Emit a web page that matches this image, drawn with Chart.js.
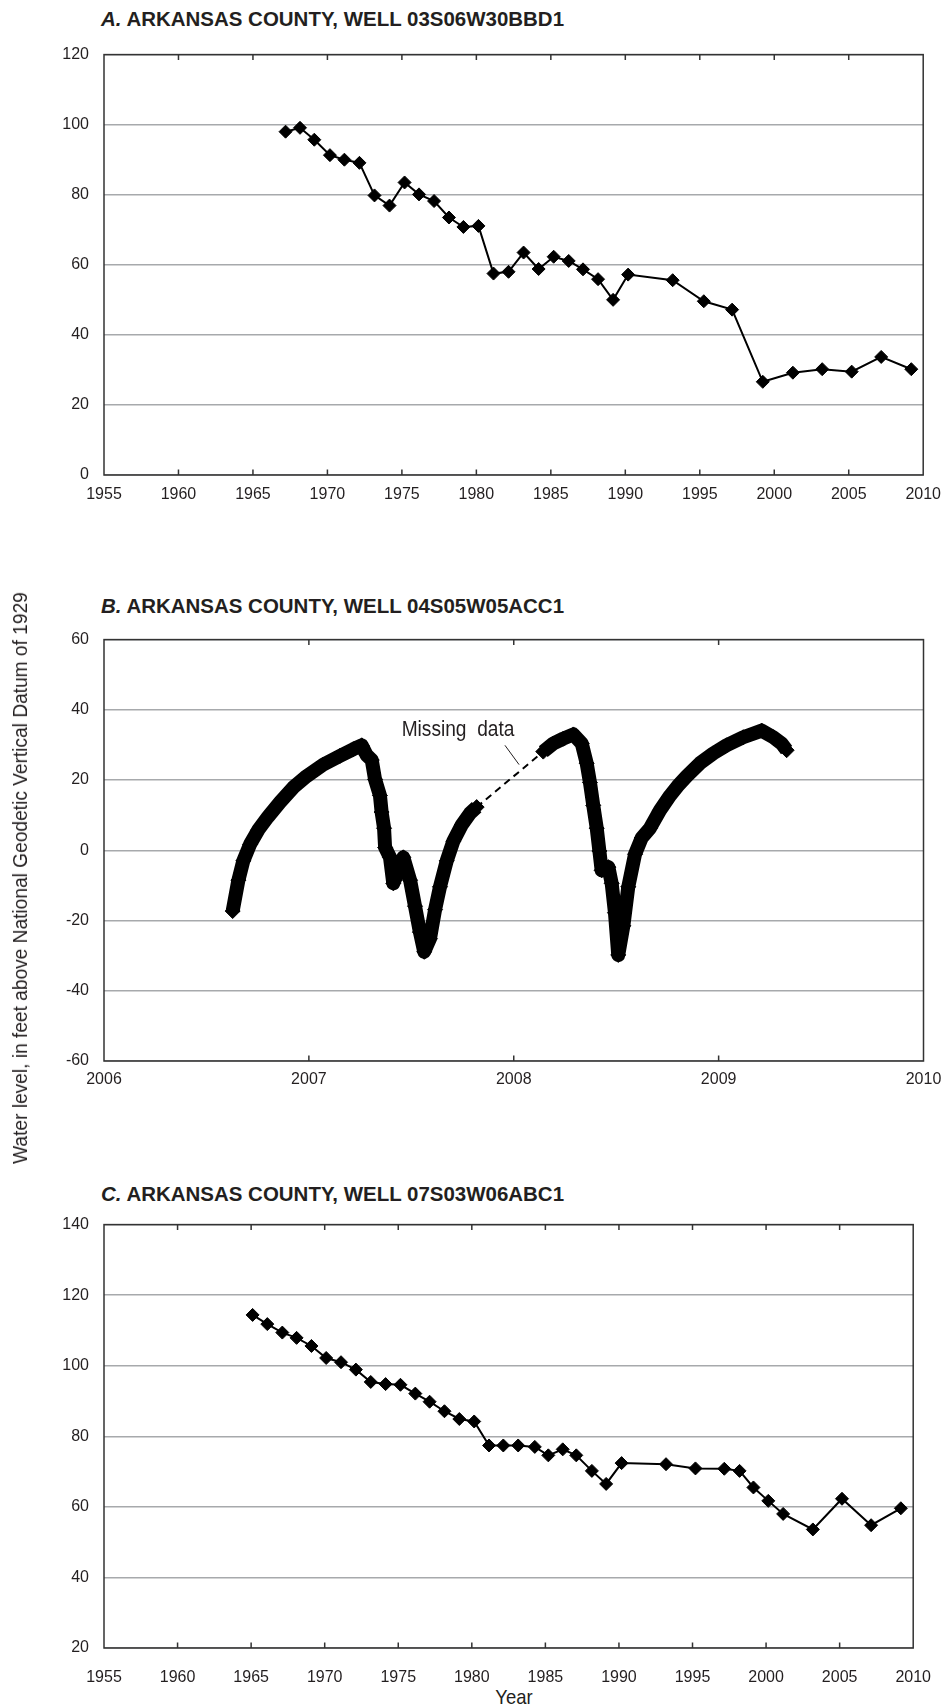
<!DOCTYPE html>
<html>
<head>
<meta charset="utf-8">
<script src="https://cdn.jsdelivr.net/npm/chart.js@4.4.1/dist/chart.umd.min.js"></script>
<style>
    body { margin: 0; background: #fff; width: 943px; height: 1707px; position: relative; overflow: hidden; }
    canvas { position: absolute; left: 0; }
    .titulo { position: absolute; left: 101px; font: bold 21px "Liberation Sans", Arial, sans-serif; line-height: 21px; color: #231f20; white-space: nowrap; transform: scaleX(0.975); transform-origin: 0 0; }
    .eixo { position: absolute; font: 20px "Liberation Sans", Arial, sans-serif; line-height: 22px; color: #231f20; white-space: nowrap; }
</style>
</head>
<body>
<div class="titulo" style="top:8px"><i>A.</i> ARKANSAS COUNTY, WELL 03S06W30BBD1</div>
<div class="titulo" style="top:595px"><i>B.</i> ARKANSAS COUNTY, WELL 04S05W05ACC1</div>
<div class="titulo" style="top:1183px"><i>C.</i> ARKANSAS COUNTY, WELL 07S03W06ABC1</div>

<canvas id="chartA" width="943" height="480" style="top:30px"></canvas>
<canvas id="chartB" width="943" height="481" style="top:615px"></canvas>
<canvas id="chartC" width="943" height="483" style="top:1200px"></canvas>

<div class="eixo" style="left:20px; top:878px; transform: translate(-50%, -50%) rotate(-90deg) scaleX(0.957);">Water level, in feet above National Geodetic Vertical Datum of 1929</div>
<div class="eixo" style="left:514px; top:1697px; font-size:21px; transform: translate(-50%, -50%) scaleX(0.88);">Year</div>

<script>
// Poço A - 03S06W30BBD1
const anosA = [1967.19, 1968.16, 1969.12, 1970.17, 1971.14, 1972.15, 1973.16, 1974.17, 1975.18, 1976.15,
    1977.16, 1978.16, 1979.13, 1980.14, 1981.15, 1982.16, 1983.17, 1984.18, 1985.19, 1986.2,
    1987.16, 1988.17, 1989.18, 1990.19, 1993.18, 1995.27, 1997.17, 1999.23, 2001.25, 2003.22,
    2005.2, 2007.18, 2009.2];
const nivelA = [98.0, 99.1, 95.7, 91.3, 90.0, 89.1, 79.8, 76.9, 83.5, 80.1,
    78.2, 73.5, 70.8, 71.1, 57.5, 58.0, 63.5, 58.8, 62.3, 61.1,
    58.7, 55.9, 50.0, 57.2, 55.6, 49.6, 47.2, 26.6, 29.2, 30.2,
    29.5, 33.7, 30.2];

// Poço B - 04S05W05ACC1 (dois trechos, com falta de dados entre eles)
const anosB1 = [2006.628, 2006.656, 2006.68, 2006.713, 2006.753, 2006.80, 2006.859, 2006.924, 2006.989, 2007.07,
    2007.152, 2007.217, 2007.258, 2007.282, 2007.307, 2007.323, 2007.347, 2007.355, 2007.367, 2007.372,
    2007.396, 2007.412, 2007.445, 2007.461, 2007.494, 2007.518, 2007.542, 2007.563, 2007.591, 2007.616,
    2007.64, 2007.673, 2007.705, 2007.746, 2007.786, 2007.819];
const nivelB1 = [-17.3, -8.5, -3.0, 1.7, 5.8, 9.5, 13.7, 17.9, 21.1, 24.4,
    26.9, 28.8, 29.9, 27.1, 25.7, 20.2, 15.6, 10.9, 6.3, 0.8,
    -2.0, -9.4, -4.8, -2.0, -8.5, -15.9, -23.3, -28.9, -25.2, -16.9,
    -10.4, -3.0, 2.6, 7.2, 10.5, 12.3];
const anosB2 = [2008.144, 2008.193, 2008.242, 2008.291, 2008.332, 2008.356, 2008.372, 2008.388, 2008.405, 2008.418,
    2008.429, 2008.462, 2008.478, 2008.494, 2008.51, 2008.535, 2008.559, 2008.592, 2008.624, 2008.665,
    2008.714, 2008.763, 2008.80, 2008.844, 2008.909, 2008.974, 2009.039, 2009.12, 2009.21, 2009.267,
    2009.308, 2009.332];
const nivelB2 = [28.1, 30.4, 31.8, 33.0, 30.4, 24.8, 19.3, 12.8, 6.3, -0.2,
    -5.7, -4.8, -9.4, -17.8, -29.8, -21.5, -10.4, -1.1, 3.5, 6.3,
    11.4, 15.6, 18.3, 21.1, 24.8, 27.6, 29.9, 32.2, 34.1, 32.2,
    30.4, 28.5];

// Poço C - 07S03W06ABC1
const anosC = [1965.1, 1966.1, 1967.12, 1968.09, 1969.1, 1970.1, 1971.11, 1972.12, 1973.13, 1974.14,
    1975.15, 1976.16, 1977.13, 1978.14, 1979.15, 1980.16, 1981.17, 1982.14, 1983.15, 1984.28,
    1985.2, 1986.18, 1987.1, 1988.16, 1989.13, 1990.18, 1993.2, 1995.2, 1997.16, 1998.2,
    1999.14, 2000.15, 2001.16, 2003.18, 2005.16, 2007.14, 2009.16];
const nivelC = [114.4, 111.8, 109.4, 107.9, 105.6, 102.2, 101.0, 98.9, 95.4, 94.8,
    94.6, 92.1, 89.8, 87.1, 84.9, 84.2, 77.4, 77.4, 77.4, 77.0,
    74.6, 76.3, 74.6, 70.2, 66.5, 72.4, 72.1, 70.9, 70.8, 70.2,
    65.5, 61.7, 58.0, 53.6, 62.3, 54.8, 59.6];

// anotação "Missing data" (em unidades dos eixos)
const notaTexto = 'Missing  data';
const notaPos = { x: 2007.728, y: 34.2 };
const notaLinha = [{ x: 2007.957, y: 29.9 }, { x: 2008.026, y: 24.4 }];

const juntar = (xs, ys) => xs.map((x, i) => ({ x, y: ys[i] }));

const fonteTicks = { family: "'Liberation Sans', Arial, sans-serif", size: 16 };
const corTexto = '#231f20';

// moldura do gráfico + tiquinhos do eixo x pra dentro (em cima e embaixo)
const moldura = {
    id: 'moldura',
    afterDraw(chart) {
        const { ctx, chartArea: a } = chart;
        const x = chart.scales.x;
        ctx.save();
        ctx.strokeStyle = '#333';
        ctx.lineWidth = 1.5;
        ctx.strokeRect(a.left, a.top, a.right - a.left, a.bottom - a.top);
        ctx.beginPath();
        x.ticks.forEach((t) => {
            const px = x.getPixelForValue(t.value);
            if (px <= a.left + 1 || px >= a.right - 1) return;
            ctx.moveTo(px, a.bottom);
            ctx.lineTo(px, a.bottom - 5.5);
            ctx.moveTo(px, a.top);
            ctx.lineTo(px, a.top + 5.5);
        });
        ctx.stroke();
        ctx.restore();
    }
};

const anotacao = {
    id: 'anotacao',
    afterDatasetsDraw(chart) {
        const { ctx, scales: { x, y } } = chart;
        ctx.save();
        ctx.translate(x.getPixelForValue(notaPos.x), y.getPixelForValue(notaPos.y));
        ctx.scale(0.87, 1); // letra mais estreita
        ctx.fillStyle = corTexto;
        ctx.font = "22px 'Liberation Sans', Arial, sans-serif";
        ctx.textAlign = 'center';
        ctx.textBaseline = 'middle';
        ctx.fillText(notaTexto, 0, 0);
        ctx.restore();

        ctx.save();
        ctx.strokeStyle = corTexto;
        ctx.lineWidth = 1;
        ctx.beginPath();
        ctx.moveTo(x.getPixelForValue(notaLinha[0].x), y.getPixelForValue(notaLinha[0].y));
        ctx.lineTo(x.getPixelForValue(notaLinha[1].x), y.getPixelForValue(notaLinha[1].y));
        ctx.stroke();
        ctx.restore();
    }
};

const escalas = (xMin, xMax, xPasso, yMin, yMax, padX) => ({
    x: {
        type: 'linear', min: xMin, max: xMax,
        grid: { display: false }, border: { display: false },
        ticks: { stepSize: xPasso, padding: padX, color: corTexto, font: fonteTicks, maxRotation: 0, autoSkip: false, callback: (v) => String(v) },
        afterFit: (s) => { s.height = 35; }
    },
    y: {
        type: 'linear', min: yMin, max: yMax,
        grid: { color: '#a7a9ac', lineWidth: 1.5, drawTicks: false }, border: { display: false },
        ticks: { stepSize: 20, padding: 15, color: corTexto, font: fonteTicks, callback: (v) => String(v) },
        afterFit: (s) => { s.width = 104; }
    }
});

const opcoesBase = (padTopo, esc) => ({
    responsive: false,
    animation: false,
    layout: { padding: { top: padTopo, right: 19.5, left: 0, bottom: 0 } },
    plugins: { legend: { display: false }, tooltip: { enabled: false } },
    scales: esc
});

const serieMarcada = (dados) => ({
    data: dados,
    borderColor: '#000',
    borderWidth: 2,
    pointStyle: 'rectRot',
    pointRadius: 6.5,
    pointBackgroundColor: '#000',
    pointBorderColor: '#000',
    pointBorderWidth: 1,
    tension: 0
});

// Gráfico A
new Chart(document.getElementById('chartA'), {
    type: 'line',
    data: { datasets: [serieMarcada(juntar(anosA, nivelA))] },
    options: opcoesBase(13, escalas(1955, 2010, 5, 0, 120, 2)),
    plugins: [moldura]
});

// Gráfico B - linha grossa de losangos (dados diários)
const trechoGrosso = (dados) => ({
    ...serieMarcada(dados),
    borderWidth: 14,
    borderJoinStyle: 'round',
    pointRadius: 7.5
});
const dadosB1 = juntar(anosB1, nivelB1);
const dadosB2 = juntar(anosB2, nivelB2);
new Chart(document.getElementById('chartB'), {
    type: 'line',
    data: {
        datasets: [
            trechoGrosso(dadosB1),
            trechoGrosso(dadosB2),
            { data: [dadosB1[dadosB1.length - 1], dadosB2[0]], borderColor: '#000', borderWidth: 2, borderDash: [7, 5], pointRadius: 0 }
        ]
    },
    options: opcoesBase(15, escalas(2006, 2010, 1, -60, 60, 1)),
    plugins: [moldura, anotacao]
});

// Gráfico C
new Chart(document.getElementById('chartC'), {
    type: 'line',
    data: { datasets: [serieMarcada(juntar(anosC, nivelC))] },
    options: opcoesBase(16, escalas(1955, 2010, 5, 20, 140, 12)),
    plugins: [moldura]
});
</script>
</body>
</html>
